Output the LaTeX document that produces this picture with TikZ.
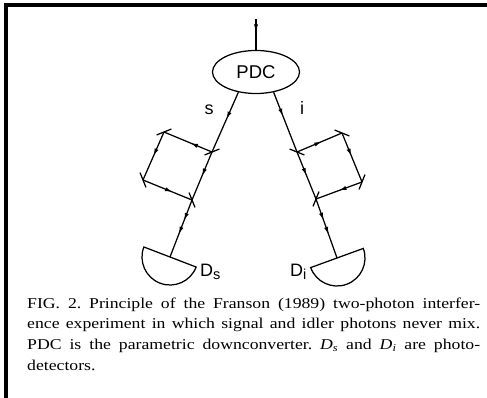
\documentclass[tikz,border=0pt]{standalone}
\usepackage{fontspec}
\usepackage{tikz}
\usetikzlibrary{shapes,arrows.meta}
\usetikzlibrary{calc}
\usetikzlibrary{positioning, decorations.markings}
\newfontfamily\diagfont{Liberation Sans}
\newfontfamily\capfont[FakeStretch=1.18]{Liberation Serif}

\begin{document}
\frenchspacing
\begin{tikzpicture}[x=1pt, y=-1pt,
	pdc_node/.style={ellipse,draw,line width=1.25pt,minimum width=87pt,minimum height=43pt,inner sep=0pt,font=\diagfont\fontsize{18.5}{18.5}\selectfont},
	beam/.style={line width=1.25pt,postaction={decorate},decoration={markings,mark=at position #1 with {\arrow{Latex[length=7.5pt,width=4.2pt]}}}},
	beam/.default=0.5,
	beam_two/.style={line width=1.25pt,postaction={decorate},decoration={markings,
		mark=at position 0.36 with {\arrow{Latex[length=7.5pt,width=4.2pt]}},
		mark=at position 0.6 with {\arrow{Latex[length=7.5pt,width=4.2pt]}}}},
	mirror_line/.style={line width=1.25pt},
	det_shape/.style={line width=1.25pt},
	label_text/.style={inner sep=0pt,font=\diagfont\fontsize{18}{18}\selectfont},
	frame_line/.style={line width=3.6pt}]
	
	\useasboundingbox (0,0) rectangle (487,398);
	
	% frame
	\coordinate (f1) at (4,5);
	\coordinate (f2) at (487,5);
	\coordinate (f3) at (6,3.2);
	\coordinate (f4) at (6,398);
	\draw[frame_line] (f1) -- (f2);
	\draw[frame_line] (f3) -- (f4);
	
	% source
	\node[pdc_node] (pdc) at (256,72) {PDC};
	\coordinate (pump) at (256,19);
	\draw[beam=0.42] (pump) -- (pdc.north);
	
	% signal arm
	\coordinate (lbs1) at (212,152);
	\coordinate (lm1) at (164,132);
	\coordinate (lm2) at (143,180);
	\coordinate (lbs2) at (192,200);
	\coordinate (ldet) at (170,257);
	
	\draw[beam=0.45] (pdc.229) -- (lbs1);
	\draw[beam=0.45] (lbs1) -- (lm1);
	\draw[beam] (lm1) -- (lm2);
	\draw[beam=0.6] (lm2) -- (lbs2);
	\draw[beam=0.5] (lbs1) -- (lbs2);
	\draw[beam_two] (lbs2) -- (ldet);
	
	\draw[mirror_line] (lbs1) ++(-22:8) -- ++(158:16);
	\draw[mirror_line] (lm1) ++(-22:8) -- ++(158:16);
	\draw[mirror_line] (lm2) ++(68:8) -- ++(248:16);
	\draw[mirror_line] (lbs2) ++(68:8) -- ++(248:16);
	\draw[det_shape] (ldet) ++(21:28) arc[start angle=21, end angle=201, radius=28] -- cycle;
	
	% idler arm
	\coordinate (rbs1) at (297,152);
	\coordinate (rm1) at (342,133);
	\coordinate (rm2) at (362,182);
	\coordinate (rbs2) at (316,199);
	\coordinate (rdet) at (337,258);
	
	\draw[beam=0.4] (pdc.311) -- (rbs1);
	\draw[beam=0.55] (rbs1) -- (rm1);
	\draw[beam=0.47] (rm1) -- (rm2);
	\draw[beam=0.5] (rm2) -- (rbs2);
	\draw[beam=0.5] (rbs1) -- (rbs2);
	\draw[beam_two] (rbs2) -- (rdet);
	
	\draw[mirror_line] (rbs1) ++(22:8) -- ++(202:16);
	\draw[mirror_line] (rm1) ++(22:8) -- ++(202:16);
	\draw[mirror_line] (rm2) ++(112:8) -- ++(292:16);
	\draw[mirror_line] (rbs2) ++(112:8) -- ++(292:16);
	\draw[det_shape] (rdet) ++(160:28) arc[start angle=160, end angle=-20, radius=28] -- cycle;
	
	% labels
	\node[label_text, anchor=base] (slab) at (209,115) {s};
	\node[label_text, anchor=base] (ilab) at (302,115) {i};
	\node[label_text, anchor=base west] (dslab) at (200,276) {D\raisebox{-3pt}{\fontsize{14.5}{14.5}\selectfont s}};
	\node[label_text, anchor=base west] (dilab) at (290,276) {D\raisebox{-3pt}{\fontsize{14.5}{14.5}\selectfont i}};
	
	% caption
	\node[anchor=north west, inner sep=0pt, text width=453pt, align=justify,
		font=\capfont\fontsize{15}{20.7}\selectfont] (caption) at (27,297.5)
		{FIG. 2. Principle of the Franson (1989) two-photon interfer-\linebreak
		ence experiment in which signal and idler photons never mix.\linebreak
		PDC is the parametric downconverter. {\itshape D}\textsubscript{\itshape s} and {\itshape D}\textsubscript{\itshape i} are photo-\linebreak
		detectors.};
\end{tikzpicture}
\end{document}
